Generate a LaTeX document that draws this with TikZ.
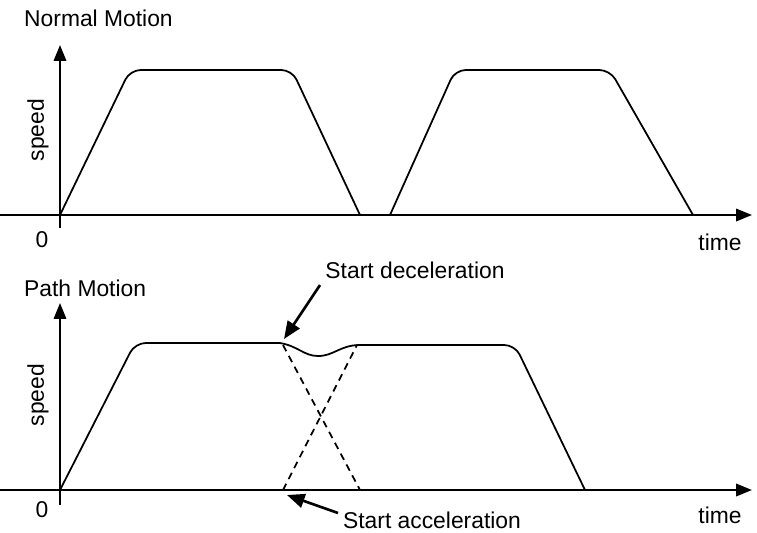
\documentclass[tikz,border=0pt]{standalone}
\usepackage{fontspec}
\setmainfont{Liberation Sans}
\usetikzlibrary{arrows.meta}
\begin{document}
\begin{tikzpicture}[x=0.02cm,y=-0.02cm,
 ax/.style={line width=1.3pt,-{Triangle[length=9pt,width=7pt]}},
 cv/.style={line width=1pt,rounded corners=6pt},
 ds/.style={line width=1pt,dash pattern=on 4pt off 3pt},
 lb/.style={font=\fontsize{13}{15}\selectfont}]
\useasboundingbox (0,0) rectangle (757,532);
% top
\coordinate (t0) at (0,215); \coordinate (t1) at (752,215);
\coordinate (ty0) at (60,228); \coordinate (ty1) at (60,45);
\draw[ax] (t0) -- (t1);
\draw[ax] (ty0) -- (ty1);
\node[lb,anchor=west] (nm) at (18,18) {Normal Motion};
\node[lb] (z1) at (42,240) {0};
\node[lb] (tm1) at (720,242) {time};
\node[lb,rotate=90] (sp1) at (38,130) {speed};
\draw[cv] (60,215) -- (130,70) -- (292,70) -- (360,215);
\draw[cv] (390,215) -- (455,70) -- (610,70) -- (693,215);
% bottom
\coordinate (b0) at (0,490); \coordinate (b1) at (752,490);
\coordinate (by0) at (60,505); \coordinate (by1) at (60,303);
\draw[ax] (b0) -- (b1);
\draw[ax] (by0) -- (by1);
\node[lb,anchor=west] (pm) at (18,288) {Path Motion};
\node[lb] (z2) at (42,510) {0};
\node[lb] (tm2) at (720,515) {time};
\node[lb,rotate=90] (sp2) at (38,395) {speed};
\draw[line width=1pt,rounded corners=6pt] (60,490) -- (135,343) -- (280,343);
\draw[line width=1pt] (280,343)
  .. controls (298,346) and (304,356) .. (318,356)
  .. controls (334,356) and (340,345) .. (360,345);
\draw[line width=1pt,rounded corners=6pt] (360,345) -- (515,345) -- (585,490);
\draw[ds] (283,345) -- (360,490);
\draw[ds] (283,490) -- (357,345);
\node[lb] (sd) at (415,270) {Start deceleration};
\node[lb] (sa) at (432,520) {Start acceleration};
\coordinate (pd) at (284,339); \coordinate (pa) at (287,495);
\draw[line width=1.5pt,-{Triangle[length=10pt,width=8pt]}] (320,285) -- (pd);
\draw[line width=1.5pt,-{Triangle[length=10pt,width=8pt]}] (338,513) -- (pa);
\end{tikzpicture}
\end{document}
